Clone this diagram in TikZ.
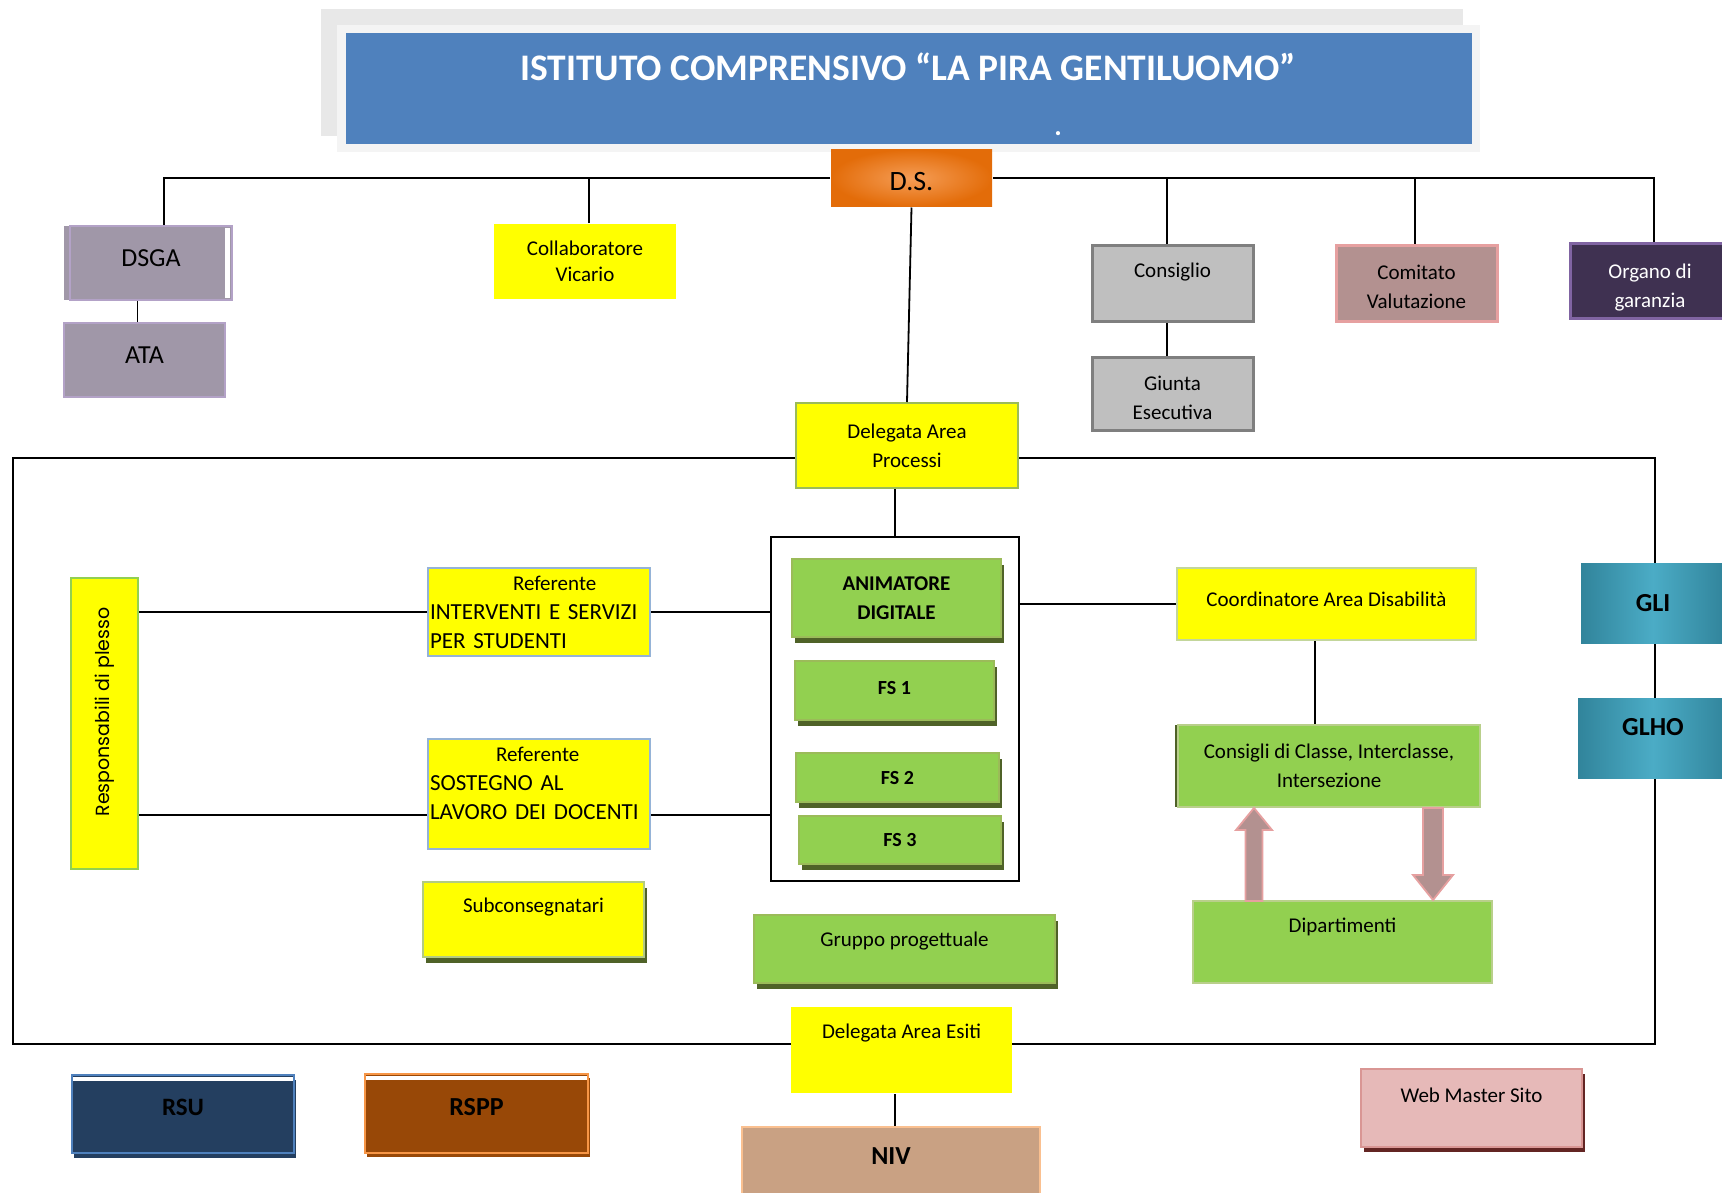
\documentclass[tikz,border=0pt]{standalone}
\usepackage{fontspec}
\setmainfont{Carlito}
\newfontfamily\poppins{Poppins}
\usetikzlibrary{shadows}

\definecolor{bluetitolo}{HTML}{4F81BD}
\definecolor{arancio}{HTML}{E36C09}
\definecolor{arancioch}{HTML}{F59D56}
\definecolor{lilla}{HTML}{A097A8}
\definecolor{lillabordo}{HTML}{B3A2C7}
\definecolor{giallo}{HTML}{FFFF00}
\definecolor{verde}{HTML}{92D050}
\definecolor{verdebordo}{HTML}{9BBB59}
\definecolor{verdechiaro}{HTML}{C3D69B}
\definecolor{oliva}{HTML}{4F6228}
\definecolor{grigio}{HTML}{BFBFBF}
\definecolor{grigioscuro}{HTML}{7F7F7F}
\definecolor{rosa}{HTML}{B39190}
\definecolor{rosabordo}{HTML}{E6A0A0}
\definecolor{viola}{HTML}{3F3151}
\definecolor{violabordo}{HTML}{8064A2}
\definecolor{azzurro}{HTML}{95B3D7}
\definecolor{petrolio}{HTML}{31849B}
\definecolor{petrolioch}{HTML}{4BACC6}
\definecolor{navy}{HTML}{243F60}
\definecolor{marrone}{HTML}{984807}
\definecolor{arancione}{HTML}{F79646}
\definecolor{sabbia}{HTML}{C9A183}
\definecolor{pesca}{HTML}{FAC090}
\definecolor{rosachiaro}{HTML}{E6B9B8}
\definecolor{rosascuro}{HTML}{D99694}
\definecolor{bordeaux}{HTML}{632523}

\begin{document}
\begin{tikzpicture}[x=1pt, y=-1pt, font=\fontsize{21}{29}\selectfont,
	riquadro/.style={rectangle, inner sep=2pt, align=center, line width=2pt},
	linea/.style={line width=1.8pt},
	alza/.style={text depth=#1pt},
	abbassa/.style={text height=#1pt},
	grassetto/.style={font=\fontsize{#1}{29}\selectfont\bfseries},
	verdebox/.style={riquadro, fill=verde, draw=verdebordo, line width=1.5pt, drop shadow={shadow xshift=3pt, shadow yshift=-6pt, fill=oliva, opacity=1}},
	freccia/.style={fill=rosa, draw=rosabordo, line width=1.8pt}]
	\useasboundingbox (0,0) rectangle (1722,1192);
	\draw[linea] (13,458) rectangle (1655,1044);
	\fill[gray!18] (321,9) rectangle (1463,136);
	\fill[gray!9] (337,25) rectangle (1480,152);
	\node (istituto) [fill=bluetitolo, minimum width=1126pt, minimum height=111pt] at (909,88.5) {};
	\node (titolo) [text=white, font=\fontsize{37.5}{40}\selectfont\bfseries] at (908,67) {ISTITUTO COMPRENSIVO “LA PIRA GENTILUOMO”};
	\node (punto) [text=white, font=\fontsize{28}{30}\selectfont\bfseries] at (1058,134) {.};

	\node (ds) [riquadro, shading=radial, inner color=arancioch, outer color=arancio, minimum width=161pt, minimum height=57pt, font=\fontsize{28}{30}\selectfont, abbassa=25] at (911.5,178) {D.S.};
	\node (dsga) [riquadro, fill=lilla, draw=lillabordo, minimum width=162pt, minimum height=74pt, font=\fontsize{26}{30}\selectfont, alza=10, drop shadow={shadow xshift=-6pt, shadow yshift=0pt, fill=lilla, opacity=1}] at (151,263) {DSGA};
	\fill[white] ([xshift=-8pt,yshift=-3pt]dsga.north east) rectangle ([xshift=-3pt,yshift=3pt]dsga.south east);
	\node (ata) [riquadro, fill=lilla, draw=lillabordo, minimum width=161pt, minimum height=74pt, font=\fontsize{26}{30}\selectfont, alza=10] at (144.5,360) {ATA};
	\node (collab) [riquadro, fill=giallo, minimum width=182pt, minimum height=75pt] at (585,261.5) {Collaboratore\\[-3pt]Vicario};
	\node (consiglio) [riquadro, fill=grigio, draw=grigioscuro, line width=3pt, minimum width=161pt, minimum height=76pt, alza=25] at (1172.5,283) {Consiglio};
	\node (giunta) [riquadro, fill=grigio, draw=grigioscuro, line width=3pt, minimum width=161pt, minimum height=73pt, abbassa=52] at (1172.5,393.5) {Giunta\\Esecutiva};
	\node (comitato) [riquadro, fill=rosa, draw=rosabordo, line width=3pt, minimum width=161pt, minimum height=76pt, abbassa=52] at (1416.5,283) {Comitato\\Valutazione};
	\node (organo) [riquadro, fill=viola, draw=violabordo, text=white, line width=3pt, minimum width=160pt, minimum height=75pt, abbassa=58] at (1650,280.5) {Organo di\\garanzia};
	\node (delproc) [riquadro, fill=giallo, draw=verdebordo, minimum width=222pt, minimum height=85pt] at (907,445.5) {Delegata Area\\Processi};

	\node (cornice) [draw, line width=2.4pt, minimum width=248pt, minimum height=344pt] at (895,709) {};
	\node (animatore) [verdebox, grassetto=21, minimum width=209pt, minimum height=78pt] at (896.5,598) {ANIMATORE\\DIGITALE};
	\node (fs1) [verdebox, grassetto=20, minimum width=199pt, minimum height=59pt, alza=6] at (894.5,690.5) {FS 1};
	\node (fs2) [verdebox, grassetto=20, minimum width=203pt, minimum height=49pt] at (897.5,777.5) {FS 2};
	\node (fs3) [verdebox, grassetto=20, minimum width=202pt, minimum height=48pt] at (900,840) {FS 3};
	\node (gruppo) [verdebox, minimum width=301pt, minimum height=68pt, alza=20] at (904.5,949) {Gruppo progettuale};

	\node (resp) [fill=giallo, draw=verde, line width=2pt, inner sep=0pt, rotate=90, minimum width=291pt, minimum height=67pt, font=\poppins\fontsize{19}{22}\selectfont] at (104.5,723.5) {\hspace*{23pt}Responsabili di plesso};
	\node (ref1) [riquadro, fill=giallo, draw=azzurro, line width=2.5pt, align=left, text width=218pt, minimum height=88pt, font=\fontsize{23}{29}\selectfont] at (539,612) {\hspace*{83pt}{\fontsize{21}{29}\selectfont Referente}\\INTERVENTI E SERVIZI\\PER STUDENTI};
	\node (ref2) [riquadro, fill=giallo, draw=azzurro, line width=2.5pt, align=left, text width=218pt, minimum height=110pt, font=\fontsize{23}{29}\selectfont, alza=80] at (539,794) {\hspace*{66pt}{\fontsize{21}{29}\selectfont Referente}\\SOSTEGNO AL\\LAVORO DEI DOCENTI};
	\node (subcons) [riquadro, fill=giallo, draw=verdechiaro!60!verdebordo, line width=2.5pt, minimum width=221pt, minimum height=75pt, alza=28.5, drop shadow={shadow xshift=3pt, shadow yshift=-6pt, fill=oliva, opacity=1}] at (533.5,919.5) {Subconsegnatari};

	\node (coord) [riquadro, fill=giallo, draw=verdechiaro, line width=2.5pt, minimum width=299pt, minimum height=72pt, alza=10] at (1326.5,604) {Coordinatore Area Disabilità};
	\node (consigli) [riquadro, fill=verde, draw=verdebordo!70, minimum width=302pt, minimum height=82pt, drop shadow={shadow xshift=-3pt, shadow yshift=0pt, fill=oliva, opacity=1}] at (1329,766) {Consigli di Classe, Interclasse,\\Intersezione};
	\node (dip) [riquadro, fill=verde, draw=verdebordo!70, minimum width=299pt, minimum height=82pt, alza=34.5] at (1342.5,942) {Dipartimenti};
	\node (gli) [riquadro, left color=petrolio, right color=petrolio, middle color=petrolioch, minimum width=144pt, minimum height=80pt, grassetto=26] at (1653,603) {GLI};
	\node (glho) [riquadro, left color=petrolio, right color=petrolio, middle color=petrolioch, minimum width=150pt, minimum height=80pt, grassetto=26, alza=22] at (1653,738) {GLHO};

	\node (delesiti) [riquadro, fill=giallo, minimum width=221pt, minimum height=86pt, alza=38.5] at (901.5,1050) {Delegata Area Esiti};
	\node (niv) [riquadro, fill=sabbia, draw=pesca, line width=2.5pt, minimum width=298pt, minimum height=73pt, grassetto=26, alza=14] at (891,1163.5) {NIV};
	\node (rsu) [riquadro, fill=navy, draw=bluetitolo, line width=2.5pt, minimum width=222pt, minimum height=78pt, grassetto=25, alza=14, drop shadow={shadow xshift=2pt, shadow yshift=-5pt, fill=navy, opacity=1}] at (183,1114) {RSU};
	\fill[white] ([xshift=2pt,yshift=-3pt]rsu.north west) rectangle ([xshift=-2pt,yshift=-7pt]rsu.north east);
	\node (rspp) [riquadro, fill=marrone, draw=arancione, line width=2.5pt, minimum width=223pt, minimum height=79pt, grassetto=26, alza=13, drop shadow={shadow xshift=2pt, shadow yshift=-4pt, fill=marrone, opacity=1}] at (476.5,1113.5) {RSPP};
	\fill[white] ([xshift=2pt,yshift=-3pt]rspp.north west) rectangle ([xshift=-2pt,yshift=-7pt]rspp.north east);
	\node (web) [riquadro, fill=rosachiaro, draw=rosascuro, line width=2.5pt, minimum width=221pt, minimum height=78pt, alza=26, drop shadow={shadow xshift=3pt, shadow yshift=-5pt, fill=bordeaux, opacity=1}] at (1471.5,1108) {Web Master Sito};

	\draw[linea] (ds.west) -| ([xshift=13pt]dsga.north);
	\draw[linea] (ds.east) -| ([xshift=4pt]organo.north);
	\draw[linea] ([xshift=4pt]collab.north) -- ([xshift=4pt]collab.north |- ds.west);
	\draw[linea] ([xshift=-5.5pt]consiglio.north) -- ([xshift=-5.5pt]consiglio.north |- ds.east);
	\draw[linea] ([xshift=-1.5pt]comitato.north) -- ([xshift=-1.5pt]comitato.north |- ds.east);
	\draw[linea] ([xshift=-7pt]ata.north) -- ([xshift=-7pt]ata.north |- dsga.south);
	\draw[linea] ([xshift=-5.5pt]giunta.north) -- ([xshift=-5.5pt]giunta.north |- consiglio.south);
	\draw[linea] (ds.south) -- (delproc.north);
	\draw[linea] (cornice.north) -- (cornice.north |- delproc.south);
	\draw[linea] (ref1.west -| resp.south) -- (ref1.west);
	\draw[linea] (ref1.east) -- (ref1.east -| cornice.west);
	\draw[linea] ([yshift=-21pt]ref2.west -| resp.south) -- ([yshift=-21pt]ref2.west);
	\draw[linea] ([yshift=-21pt]ref2.east) -- ([yshift=-21pt]ref2.east -| cornice.west);
	\draw[linea] (coord.west -| cornice.east) -- (coord.west);
	\draw[linea] ([xshift=-11.5pt]coord.south) -- ([xshift=-11.5pt]coord.south |- consigli.north);
	\draw[linea] ([xshift=-6.5pt]delesiti.south) -- ([xshift=-6.5pt]delesiti.south |- niv.north);
	\draw[freccia] (1245.5,901) -- (1245.5,830) -- (1236,830) -- (1254,808) -- (1272,830) -- (1262.5,830) -- (1262.5,901) -- cycle;
	\draw[freccia] (1423,808) -- (1423,875) -- (1413,875) -- (1433,900) -- (1453,875) -- (1443,875) -- (1443,808) -- cycle;
\end{tikzpicture}
\end{document}
